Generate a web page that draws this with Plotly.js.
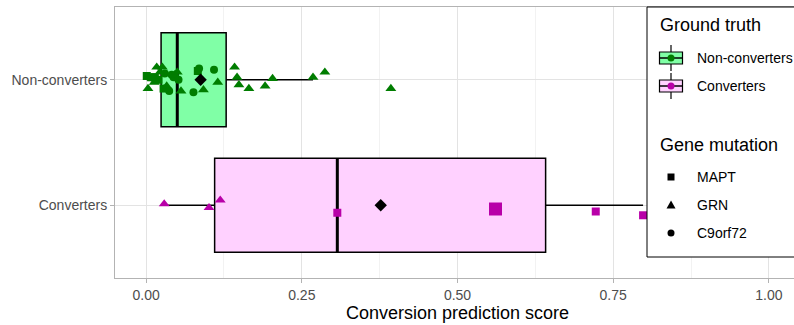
<!DOCTYPE html>
<html><head><meta charset="utf-8">
<script src="https://cdn.plot.ly/plotly-3.0.1.min.js"></script>
<style>html,body{margin:0;padding:0;overflow:hidden;background:#fff}</style>
</head><body><div id="chart" style="width:810px;height:325px"></div>
<script>
// ---------------- data ----------------
const groups = ['Converters', 'Non-converters'];   // y positions 1, 2
const geneLevels = ['MAPT', 'GRN', 'C9orf72'];

const nonconvScore = [0.001,0.003,0.008,0.013,0.014,0.017,0.018,0.020,0.022,0.026,0.028,0.030,0.033,0.037,0.041,0.044,0.046,0.050,0.052,0.056,0.076,0.083,0.085,0.092,0.109,0.115,0.142,0.146,0.149,0.165,0.191,0.203,0.268,0.287,0.393];
const nonconvGene = ['MAPT','GRN','MAPT','GRN','MAPT','GRN','C9orf72','MAPT','GRN','GRN','MAPT','C9orf72','GRN','C9orf72','C9orf72','C9orf72','GRN','GRN','C9orf72','GRN','C9orf72','MAPT','C9orf72','GRN','C9orf72','GRN','GRN','GRN','GRN','GRN','GRN','GRN','GRN','GRN','GRN'];
const nonconvJitter = [0.03,-0.07,0.02,-0.02,0.02,0.10,0.00,0.00,0.06,0.10,-0.07,0.05,-0.05,-0.09,0.04,0.02,0.04,0.06,0.00,-0.09,-0.10,0.07,0.09,-0.08,0.08,-0.02,0.10,0.02,-0.04,-0.07,-0.05,0.01,0.02,0.06,-0.07];

const convScore = [0.029,0.101,0.119,0.307,0.561,0.722,0.798];
const convGene = ['GRN','GRN','GRN','MAPT','MAPT','MAPT','MAPT'];
const convJitter = [0.01,-0.02,0.04,-0.06,-0.03,-0.05,-0.08];

const xTicks = [0, 0.25, 0.5, 0.75, 1];
const xTickLabels = ['0.00', '0.25', '0.50', '0.75', '1.00'];

// ---------------- styling ----------------
const FONT = 'Liberation Sans, Arial, Helvetica, sans-serif';
const C = {
  nonFill: '#80FFA6', convFill: '#FFD1FF',
  nonPt: '#007D00', convPt: '#B800A8'
};
const symbolOf = {MAPT: 'square', GRN: 'triangle-up', C9orf72: 'circle'};
const sizeOf = {MAPT: 8, GRN: 9.5, C9orf72: 8};

function q7(arr, p) {
  const s = [...arr].sort((a, b) => a - b);
  const h = (s.length - 1) * p, lo = Math.floor(h);
  const hi = Math.min(lo + 1, s.length - 1);
  return s[lo] + (h - lo) * (s[hi] - s[lo]);
}
function stats(a) {
  const q1 = q7(a, .25), med = q7(a, .5), q3 = q7(a, .75), iqr = q3 - q1;
  const inside = a.filter(v => v >= q1 - 1.5 * iqr && v <= q3 + 1.5 * iqr);
  return {q1, med, q3, lf: Math.min(...inside), uf: Math.max(...inside),
          mean: a.reduce((s, v) => s + v, 0) / a.length};
}

const sets = [
  {pos: 2, score: nonconvScore, gene: nonconvGene, jit: nonconvJitter, fill: C.nonFill, pt: C.nonPt},
  {pos: 1, score: convScore, gene: convGene, jit: convJitter, fill: C.convFill, pt: C.convPt}
];
const BW = 0.75;
const traces = [];
sets.forEach(s => {
  const st = stats(s.score);
  traces.push({
    type: 'box', orientation: 'h', y: [s.pos],
    q1: [st.q1], median: [st.med], q3: [st.q3], lowerfence: [st.lf], upperfence: [st.uf],
    width: BW, whiskerwidth: 0, fillcolor: s.fill,
    line: {color: '#000', width: 1.5}, boxpoints: false,
    hoverinfo: 'skip', showlegend: false
  });
  // thick median
  traces.push({
    type: 'scatter', mode: 'lines', x: [st.med, st.med], y: [s.pos - BW / 2, s.pos + BW / 2],
    line: {color: '#000', width: 3}, hoverinfo: 'skip', showlegend: false
  });
});
sets.forEach((s, k) => {
  const sizes = s.gene.map(g => sizeOf[g]);
  if (k === 1) sizes[4] = 13; // emphasised converter point
  traces.push({
    type: 'scatter', mode: 'markers',
    x: s.score, y: s.score.map((v, i) => s.pos + s.jit[i]),
    marker: {color: s.pt, opacity: 1, symbol: s.gene.map(g => symbolOf[g]), size: sizes, line: {width: 0}},
    hoverinfo: 'skip', showlegend: false
  });
});
sets.forEach(s => {
  const st = stats(s.score);
  traces.push({
    type: 'scatter', mode: 'markers', x: [st.mean], y: [s.pos],
    marker: {color: '#000', opacity: 1, symbol: 'diamond', size: 9.5},
    hoverinfo: 'skip', showlegend: false
  });
});

// ---------------- custom legend (pixel helpers) ----------------
const W = 810, H = 325, ML = 115, MR = 10, MT = 7, MB = 47;
const PW = W - ML - MR, PH = H - MT - MB;
const X = px => (px - ML) / PW;
const Y = py => 1 - (py - MT) / PH;
const shapes = [], annotations = [];
shapes.push({type: 'rect', xref: 'paper', yref: 'paper', x0: X(647), x1: X(830), y0: Y(7), y1: Y(257),
  fillcolor: '#fff', line: {color: '#000', width: 1}, layer: 'above'});
annotations.push({xref: 'paper', yref: 'paper', x: X(658), y: Y(25), xanchor: 'left', yanchor: 'middle',
  text: 'Ground truth', showarrow: false, font: {family: FONT, size: 18, color: '#000'}});
annotations.push({xref: 'paper', yref: 'paper', x: X(658), y: Y(145), xanchor: 'left', yanchor: 'middle',
  text: 'Gene mutation', showarrow: false, font: {family: FONT, size: 18, color: '#000'}});
const keyRows = [{label: groups[1], fill: C.nonFill, pt: C.nonPt, y: 58}, {label: groups[0], fill: C.convFill, pt: C.convPt, y: 86}];
keyRows.forEach(r => {
  const cx = 671, cy = r.y;
  shapes.push({type: 'line', xref: 'paper', yref: 'paper', x0: X(cx), x1: X(cx), y0: Y(cy - 13), y1: Y(cy + 13), line: {color: '#000', width: 1.2}, layer: 'above'});
  shapes.push({type: 'rect', xref: 'paper', yref: 'paper', x0: X(cx - 11.5), x1: X(cx + 11.5), y0: Y(cy - 6), y1: Y(cy + 6), fillcolor: r.fill, line: {color: '#000', width: 1.2}, layer: 'above'});
  shapes.push({type: 'line', xref: 'paper', yref: 'paper', x0: X(cx - 11.5), x1: X(cx + 11.5), y0: Y(cy), y1: Y(cy), line: {color: '#000', width: 1.5}, layer: 'above'});
  shapes.push({type: 'circle', xref: 'paper', yref: 'paper', x0: X(cx - 3.5), x1: X(cx + 3.5), y0: Y(cy - 3.5), y1: Y(cy + 3.5), fillcolor: r.pt, line: {width: 0}, layer: 'above'});
  annotations.push({xref: 'paper', yref: 'paper', x: X(695), y: Y(cy), xanchor: 'left', yanchor: 'middle',
    text: r.label, showarrow: false, font: {family: FONT, size: 14, color: '#000'}});
});
const geneRows = [177, 205, 233];
geneLevels.forEach((g, i) => {
  const cx = 671, cy = geneRows[i];
  if (g === 'MAPT') shapes.push({type: 'rect', xref: 'paper', yref: 'paper', x0: X(cx - 3.5), x1: X(cx + 3.5), y0: Y(cy - 3.5), y1: Y(cy + 3.5), fillcolor: '#000', line: {width: 0}, layer: 'above'});
  if (g === 'GRN') shapes.push({type: 'path', xref: 'paper', yref: 'paper',
    path: `M${X(cx - 4.5)},${Y(cy + 3.5)} L${X(cx + 4.5)},${Y(cy + 3.5)} L${X(cx)},${Y(cy - 4.5)} Z`, fillcolor: '#000', line: {width: 0}, layer: 'above'});
  if (g === 'C9orf72') shapes.push({type: 'circle', xref: 'paper', yref: 'paper', x0: X(cx - 3.5), x1: X(cx + 3.5), y0: Y(cy - 3.5), y1: Y(cy + 3.5), fillcolor: '#000', line: {width: 0}, layer: 'above'});
  annotations.push({xref: 'paper', yref: 'paper', x: X(695), y: Y(cy), xanchor: 'left', yanchor: 'middle',
    text: g, showarrow: false, font: {family: FONT, size: 14, color: '#000'}});
});

const layout = {
  width: W, height: H, margin: {l: ML, r: MR, t: MT, b: MB},
  paper_bgcolor: '#fff', plot_bgcolor: '#fff', showlegend: false,
  font: {family: FONT},
  xaxis: {
    range: [-0.05, 1.05], tickvals: xTicks, ticktext: xTickLabels,
    ticks: 'outside', ticklen: 4, tickcolor: '#B3B3B3', tickwidth: 1,
    tickfont: {family: FONT, size: 14, color: '#4D4D4D'},
    showgrid: true, gridcolor: '#E3E3E3', gridwidth: 1,
    minor: {dtick: 0.125, tick0: 0.125, showgrid: true, gridcolor: '#EFEFEF', gridwidth: 0.8, ticks: ''},
    showline: true, mirror: true, linecolor: '#B3B3B3', linewidth: 1, zeroline: false,
    title: {text: 'Conversion prediction score', font: {family: FONT, size: 18, color: '#000'}, standoff: 4}
  },
  yaxis: {
    range: [0.42, 2.58], tickvals: [1, 2], ticktext: groups,
    ticks: 'outside', ticklen: 4, tickcolor: '#B3B3B3', tickwidth: 1,
    tickfont: {family: FONT, size: 14, color: '#4D4D4D'},
    showgrid: true, gridcolor: '#E3E3E3', gridwidth: 1,
    showline: true, mirror: true, linecolor: '#B3B3B3', linewidth: 1, zeroline: false
  },
  shapes, annotations
};
Plotly.newPlot('chart', traces, layout, {displayModeBar: false, staticPlot: true});
</script></body></html>
